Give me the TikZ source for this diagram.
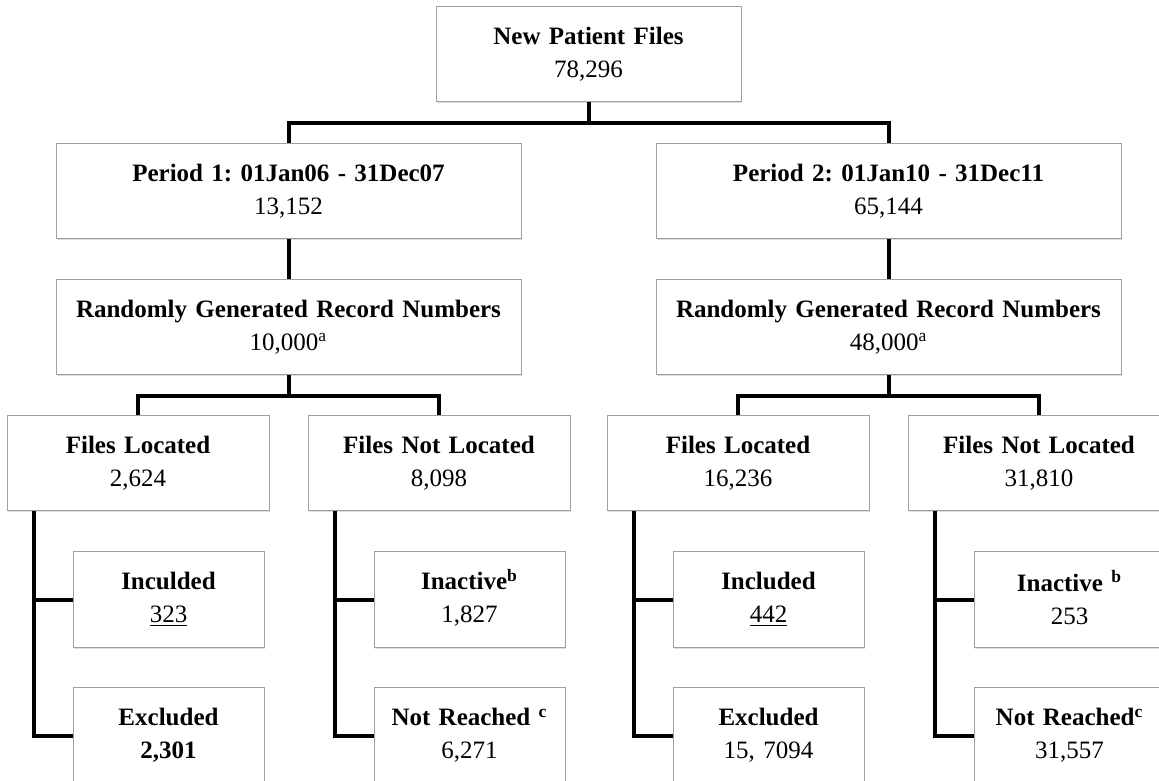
\documentclass[tikz,border=0pt]{standalone}
\usepackage{fontspec}
\setmainfont{Liberation Serif}
\usetikzlibrary{positioning,shadows}
\frenchspacing

\begin{document}
\begin{tikzpicture}[
    node distance=20pt and 19pt,
    box/.style={draw=gray!75, line width=0.5pt, fill=white, align=center, inner sep=0pt, minimum height=47.5pt,
                font=\fontsize{12.5}{16.5}\selectfont,
                drop shadow={shadow xshift=0.6pt, shadow yshift=-0.9pt, opacity=0.25}},
    topbox/.style={box, text width=152.5pt},
    periodbox/.style={box, text width=232.5pt},
    filebox/.style={box, text width=131pt},
    leafbox/.style={box, text width=95.5pt, minimum height=48pt},
    link/.style={line width=2pt}
]
\useasboundingbox (0,0) rectangle (579.5pt,-390pt);
\clip (0,0) rectangle (579.5pt,-390pt);

\node[topbox, anchor=north] (newfiles) at (294.25pt,-3pt) {\textbf{New Patient Files}\\78,296};

\node[periodbox, below left=20.5pt and 33.5pt of newfiles.south] (period1) {\textbf{Period 1: 01Jan06 - 31Dec07}\\13,152};
\node[periodbox, below right=20.5pt and 33.5pt of newfiles.south] (period2) {\textbf{Period 2: 01Jan10 - 31Dec11}\\65,144};
\node[periodbox, below=of period1] (random1) {\textbf{Randomly Generated Record Numbers}\\10,000\smash{\textsuperscript{a}}};
\node[periodbox, below=of period2] (random2) {\textbf{Randomly Generated Record Numbers}\\48,000\smash{\textsuperscript{a}}};

\node[filebox, below left=20pt and 9.5pt of random1.south] (located1) {\textbf{Files Located}\\2,624};
\node[filebox, below right=20pt and 9.5pt of random1.south] (missing1) {\textbf{Files Not Located}\\8,098};
\node[filebox, below left=20pt and 9.5pt of random2.south] (located2) {\textbf{Files Located}\\16,236};
\node[filebox, below right=20pt and 9.5pt of random2.south] (missing2) {\textbf{Files Not Located}\\31,810};

\node[leafbox, below right=20pt and 33pt of located1.south west] (included1) {\textbf{Inculded}\\\underline{323}};
\node[leafbox, below=19.5pt of included1] (excluded1) {\textbf{Excluded}\\\textbf{2,301}};
\node[leafbox, below right=20pt and 33pt of missing1.south west] (inactive1) {\textbf{Inactive\smash{\textsuperscript{b}}}\\1,827};
\node[leafbox, below=19.5pt of inactive1] (unreached1) {\textbf{Not Reached \smash{\textsuperscript{c}}}\\6,271};
\node[leafbox, below right=20pt and 33pt of located2.south west] (included2) {\textbf{Included}\\\underline{442}};
\node[leafbox, below=19.5pt of included2] (excluded2) {\textbf{Excluded}\\15, 7094};
\node[leafbox, below right=20pt and 33pt of missing2.south west] (inactive2) {\textbf{Inactive \smash{\textsuperscript{b}}}\\253};
\node[leafbox, below=19.5pt of inactive2] (unreached2) {\textbf{Not Reached\smash{\textsuperscript{c}}}\\31,557};

\draw[link] (newfiles.south) -- ++(0,-10.5pt) -| (period1.north);
\draw[link] (newfiles.south) -- ++(0,-10.5pt) -| (period2.north);
\draw[link] (period1.south) -- (random1.north);
\draw[link] (period2.south) -- (random2.north);
\draw[link] (random1.south) -- ++(0,-10.5pt) -| (located1.north);
\draw[link] (random1.south) -- ++(0,-10.5pt) -| (missing1.north);
\draw[link] (random2.south) -- ++(0,-10.5pt) -| (located2.north);
\draw[link] (random2.south) -- ++(0,-10.5pt) -| (missing2.north);
\draw[link] ([xshift=13.5pt]located1.south west) |- (included1.west);
\draw[link] ([xshift=13.5pt]located1.south west) |- (excluded1.west);
\draw[link] ([xshift=13.5pt]missing1.south west) |- (inactive1.west);
\draw[link] ([xshift=13.5pt]missing1.south west) |- (unreached1.west);
\draw[link] ([xshift=13.5pt]located2.south west) |- (included2.west);
\draw[link] ([xshift=13.5pt]located2.south west) |- (excluded2.west);
\draw[link] ([xshift=13.5pt]missing2.south west) |- (inactive2.west);
\draw[link] ([xshift=13.5pt]missing2.south west) |- (unreached2.west);
\end{tikzpicture}
\end{document}
